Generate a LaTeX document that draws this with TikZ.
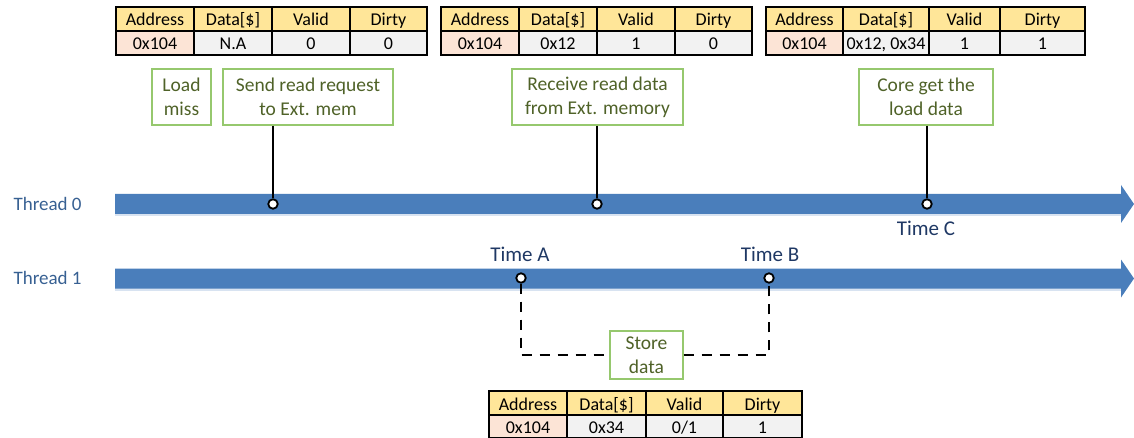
\documentclass[tikz,border=0pt]{standalone}
\usepackage{fontspec}
\setmainfont{Carlito}
\definecolor{hdrfill}{RGB}{255,230,153}
\definecolor{addrfill}{RGB}{252,228,214}
\definecolor{cellfill}{RGB}{242,242,242}
\definecolor{flow}{RGB}{74,126,187}
\definecolor{flowshade}{RGB}{190,208,232}
\definecolor{notetext}{RGB}{79,98,40}
\definecolor{noteedge}{RGB}{150,200,110}
\definecolor{threadtext}{RGB}{55,96,146}
\definecolor{timetext}{RGB}{31,56,100}

\tikzset{
  tcell/.style={draw=black, line width=1.3pt, inner sep=0pt, text=black,
    text height=14pt, text depth=0pt, font=\fontsize{18}{20}\selectfont},
  note/.style={draw=noteedge, line width=1.3pt, fill=white, text=notetext,
    align=center, inner sep=0pt, font=\fontsize{19.5}{24}\selectfont},
  threadlabel/.style={text=threadtext, anchor=west, font=\fontsize{19}{22}\selectfont},
  timelabel/.style={text=timetext, font=\fontsize{21}{24}\selectfont},
  tick/.style={draw=black, fill=white, line width=1.8pt, circle, inner sep=0pt, minimum size=9.5pt},
  stem/.style={draw=black, line width=2pt},
  stemdash/.style={draw=black, line width=2pt, dash pattern=on 10pt off 8pt},
}

% one table cell: name, left, top, right, bottom, fill, text
\newcommand\tcell[7]{%
  \node[tcell, fill=#6, minimum width={#4pt-#2pt}, minimum height={#5pt-#3pt}]
    (#1) at ({(#2+#4)/2},{(#3+#5)/2}) {#7};}

% column edges and row edges of the next table
\newcommand\setgrid[8]{%
  \def\cA{#1}\def\cB{#2}\def\cC{#3}\def\cD{#4}\def\cE{#5}%
  \def\rA{#6}\def\rB{#7}\def\rC{#8}}

% cache line table: name, address, data, valid, dirty
\newcommand\cachetable[5]{%
  \tcell{#1-ha}{\cA}{\rA}{\cB}{\rB}{hdrfill}{Address}
  \tcell{#1-hd}{\cB}{\rA}{\cC}{\rB}{hdrfill}{Data[\$]}
  \tcell{#1-hv}{\cC}{\rA}{\cD}{\rB}{hdrfill}{Valid}
  \tcell{#1-hy}{\cD}{\rA}{\cE}{\rB}{hdrfill}{Dirty}
  \tcell{#1-a}{\cA}{\rB}{\cB}{\rC}{addrfill}{#2}
  \tcell{#1-d}{\cB}{\rB}{\cC}{\rC}{cellfill}{#3}
  \tcell{#1-v}{\cC}{\rB}{\cD}{\rC}{cellfill}{#4}
  \tcell{#1-y}{\cD}{\rB}{\cE}{\rC}{cellfill}{#5}}

% note box: name, left, top, right, bottom, text
\newcommand\notebox[6]{%
  \node[note, minimum width={#4pt-#2pt}, minimum height={#5pt-#3pt}]
    (#1) at ({(#2+#4)/2},{(#3+#5)/2}) {#6};}

% timeline arrow: centre y
\newcommand\timeline[1]{%
  \fill[flowshade, opacity=0.6] (115,#1+9) -- (1121,#1+9) -- (1121,#1+12) -- (115,#1+12) -- cycle;
  \fill[flow] (115,#1-10) -- (1121,#1-10) -- (1121,#1-19) -- (1134,#1)
    -- (1121,#1+19) -- (1121,#1+10) -- (115,#1+10) -- cycle;}

\begin{document}
\begin{tikzpicture}[x=1pt, y=-1pt]
\useasboundingbox (0,0) rectangle (1134,438);

% thread timelines
\timeline{204}
\timeline{278.5}
\node[threadlabel] (th0) at (10,204) {Thread 0};
\node[threadlabel] (th1) at (10,278) {Thread 1};

% cache states along thread 0
\setgrid{116}{194}{272}{350}{427}{7}{31}{55}
\cachetable{s1}{0x104}{N.A}{0}{0}
\setgrid{441}{519}{597}{675}{752}{7}{31}{55}
\cachetable{s2}{0x104}{0x12}{1}{0}
\setgrid{766}{843}{929}{1000}{1085}{7}{31}{55}
\cachetable{s3}{0x104}{0x12, 0x34}{1}{1}
% cache state written by thread 1
\setgrid{489}{567}{646}{723}{802}{391}{415}{438}
\cachetable{s4}{0x104}{0x34}{0/1}{1}

% events on thread 0
\notebox{miss}{152}{69}{211}{125}{Load\\miss}
\notebox{send}{223}{69}{393}{125}{Send read request\\to Ext. mem}
\notebox{recv}{512}{69}{683}{125}{Receive read data\\from Ext. memory}
\notebox{core}{859}{69}{993}{125}{Core get the\\load data}

\node[tick] (tsend) at (273,204) {};
\node[tick] (trecv) at (597,204) {};
\node[tick] (tcore) at (927,204) {};
\draw[stem] (tsend |- send.south) -- (tsend.north);
\draw[stem] (trecv |- recv.south) -- (trecv.north);
\draw[stem] (tcore |- core.south) -- (tcore.north);
\node[timelabel] (timec) at (926,228) {Time C};

% store on thread 1
\node[tick] (ta) at (521,278) {};
\node[tick] (tb) at (769,278) {};
\node[timelabel] (timea) at (520,254) {Time A};
\node[timelabel] (timeb) at (770,254) {Time B};
\notebox{store}{610}{331}{683}{379}{Store\\data}
\draw[stemdash] (ta.south) |- (store.west);
\draw[stemdash] (store.east) -| (tb.south);
\end{tikzpicture}
\end{document}
